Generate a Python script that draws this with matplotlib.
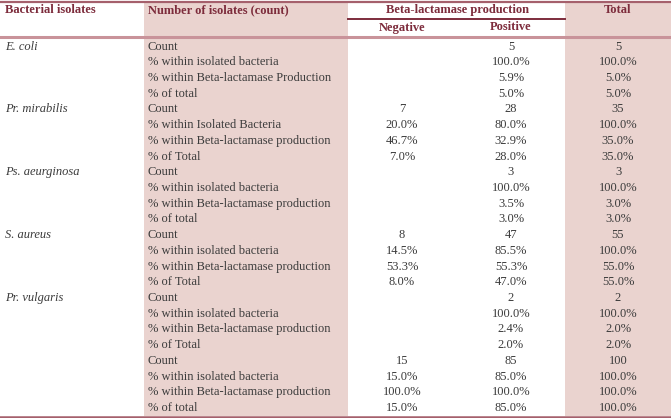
import matplotlib
matplotlib.use('Agg')
import matplotlib.pyplot as plt
import matplotlib.patches as mpatches

# table content
ISOLATES = ["E. coli", "Pr. mirabilis", "Ps. aeurginosa", "S. aureus", "Pr. vulgaris", ""]

ROW_LABELS = [
    ["Count", "% within isolated bacteria", "% within Beta-lactamase Production", "% of total"],
    ["Count", "% within Isolated Bacteria", "% within Beta-lactamase production", "% of Total"],
    ["Count", "% within isolated bacteria", "% within Beta-lactamase production", "% of total"],
    ["Count", "% within isolated bacteria", "% within Beta-lactamase production", "% of Total"],
    ["Count", "% within isolated bacteria", "% within Beta-lactamase production", "% of Total"],
    ["Count", "% within isolated bacteria", "% within Beta-lactamase production", "% of total"],
]

NEGATIVE = ["", "", "", "",
            "7", "20.0%", "46.7%", "7.0%",
            "", "", "", "",
            "8", "14.5%", "53.3%", "8.0%",
            "", "", "", "",
            "15", "15.0%", "100.0%", "15.0%"]

POSITIVE = ["5", "100.0%", "5.9%", "5.0%",
            "28", "80.0%", "32.9%", "28.0%",
            "3", "100.0%", "3.5%", "3.0%",
            "47", "85.5%", "55.3%", "47.0%",
            "2", "100.0%", "2.4%", "2.0%",
            "85", "85.0%", "100.0%", "85.0%"]

TOTAL = ["5", "100.0%", "5.0%", "5.0%",
         "35", "100.0%", "35.0%", "35.0%",
         "3", "100.0%", "3.0%", "3.0%",
         "55", "100.0%", "55.0%", "55.0%",
         "2", "100.0%", "2.0%", "2.0%",
         "100", "100.0%", "100.0%", "100.0%"]

W, H = 671, 418
SHADE = '#ead3cf'
MAROON = '#7d2c3c'
LINE = '#a5606c'
LINE_LIGHT = '#c9939a'
TXT = '#3b3b3b'
FONT = 'Liberation Serif'

fig = plt.figure(figsize=(W / 100, H / 100), dpi=100)
ax = fig.add_axes([0, 0, 1, 1])
ax.set_xlim(0, W)
ax.set_ylim(H, 0)
ax.set_axis_off()

# shaded columns
ax.add_patch(mpatches.Rectangle((144, 2), 204, 414, color=SHADE, lw=0, zorder=0))
ax.add_patch(mpatches.Rectangle((565, 2), 106, 414, color=SHADE, lw=0, zorder=0))

# rules
ax.plot([0, W], [1.5, 1.5], color=LINE, lw=1.6, zorder=3)
ax.plot([348, 565], [18.5, 18.5], color=MAROON, lw=1.4, zorder=3)
ax.plot([0, W], [36.5, 36.5], color=LINE_LIGHT, lw=2.2, zorder=3)
ax.plot([0, W], [416.5, 416.5], color=LINE, lw=1.8, zorder=3)

hdr = dict(fontsize=9, fontweight='bold', color=MAROON, family=FONT, va='center')
ax.text(5, 10, "Bacterial isolates", ha='left', **hdr)
ax.text(148, 10, "Number of isolates (count)", ha='left', **hdr)
ax.text(457, 10, "Beta-lactamase production", ha='center', **hdr)
ax.text(618, 10, "Total", ha='center', **hdr)
ax.text(402, 27.5, "Negative", ha='center', **hdr)
ax.text(511, 27.5, "Positive", ha='center', **hdr)

body = dict(fontsize=9, color=TXT, family=FONT, va='center')
y0, dy = 46.5, 15.72
for g, name in enumerate(ISOLATES):
    yg = y0 + g * 4 * dy
    if name:
        ax.text(5, yg, name, ha='left', style='italic', **body)
    for k, lab in enumerate(ROW_LABELS[g]):
        ax.text(148, yg + k * dy, lab, ha='left', **body)

for i in range(len(POSITIVE)):
    y = y0 + i * dy
    if NEGATIVE[i]:
        ax.text(402, y, NEGATIVE[i], ha='center', **body)
    ax.text(511, y, POSITIVE[i], ha='center', **body)
    ax.text(618, y, TOTAL[i], ha='center', **body)

fig.savefig('out.png', dpi=100)
